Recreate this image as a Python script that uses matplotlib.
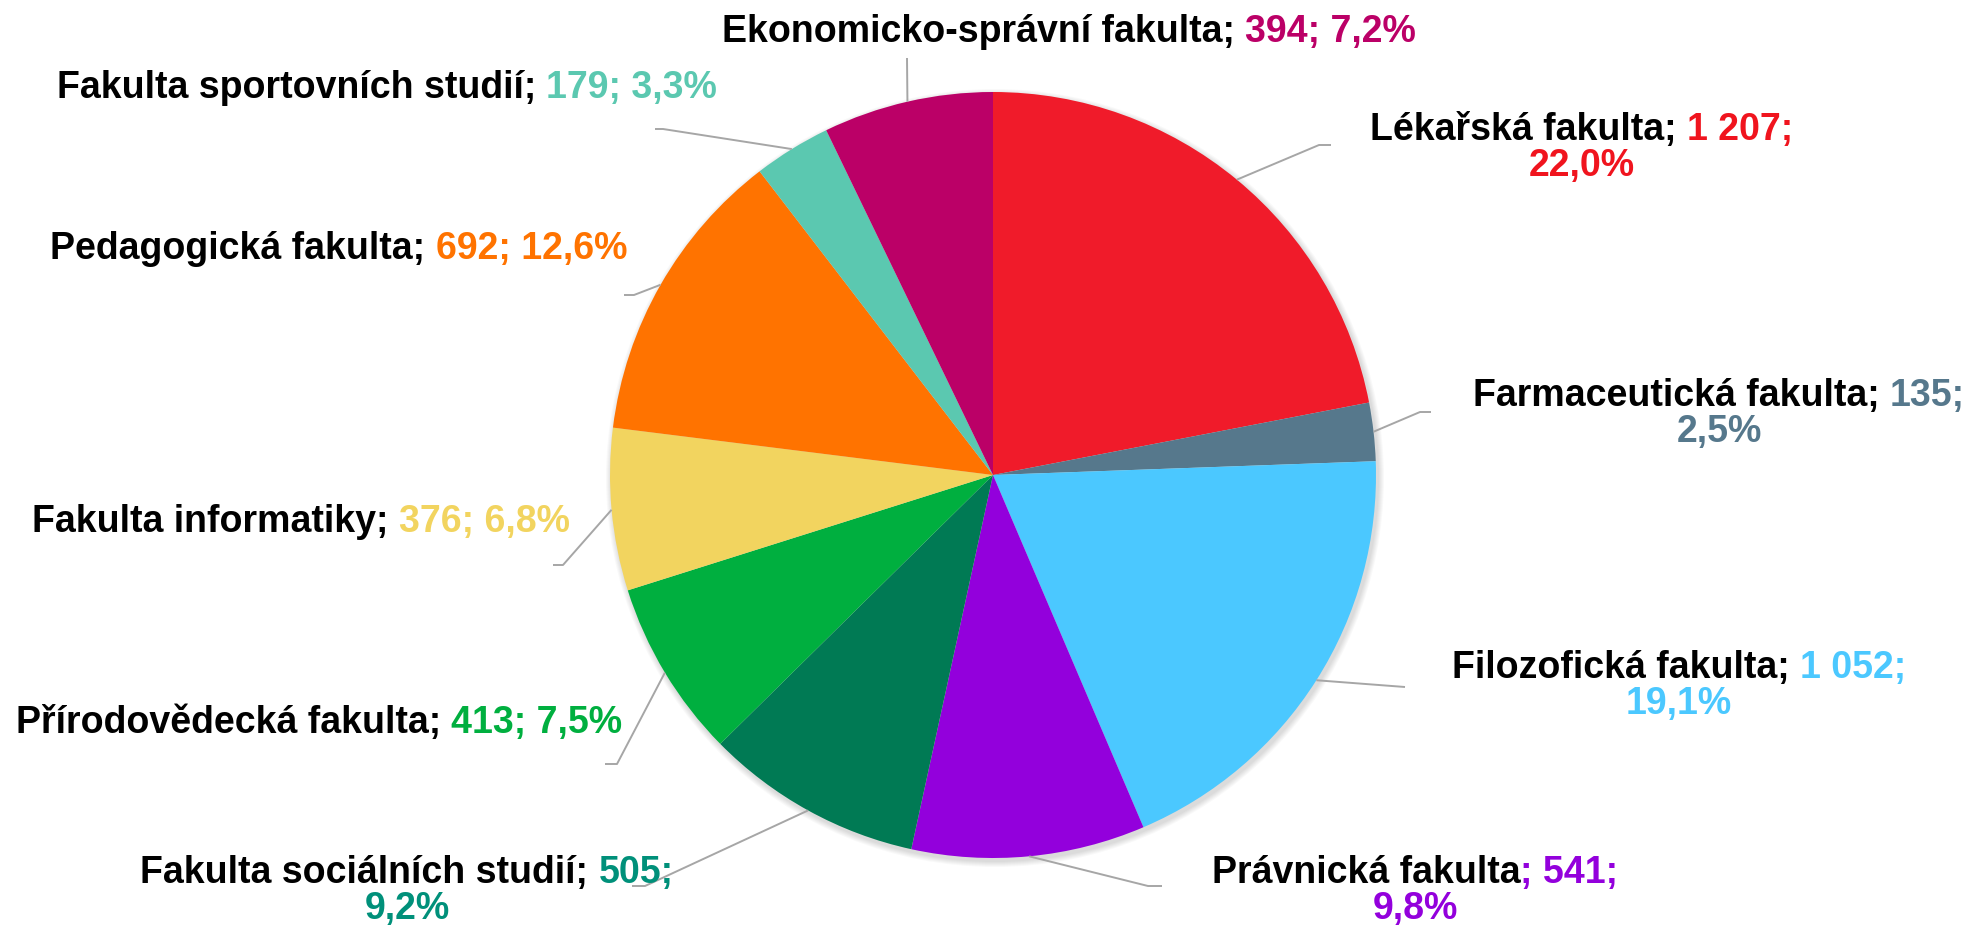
import numpy as np
import matplotlib
matplotlib.use("Agg")
import matplotlib.pyplot as plt
from matplotlib.offsetbox import TextArea, HPacker, VPacker, AnnotationBbox
from matplotlib.patches import Circle


# -------------------------
# Data
# -------------------------

faculties = [
    "Lékařská fakulta", "Farmaceutická fakulta", "Filozofická fakulta",
    "Právnická fakulta", "Fakulta sociálních studií", "Přírodovědecká fakulta",
    "Fakulta informatiky", "Pedagogická fakulta", "Fakulta sportovních studií",
    "Ekonomicko-správní fakulta",
]
counts = [1207, 135, 1052, 541, 505, 413, 376, 692, 179, 394]

slice_colors = ["#F01B2A", "#56788C", "#4BC8FF", "#9300DC", "#007A54",
                "#00AF3F", "#F2D45F", "#FF7300", "#5BC8B0", "#BB0067"]
value_colors = ["#F0141E", "#56788C", "#4BC8FF", "#9300DC", "#00907A",
                "#00AF3F", "#F2D45F", "#FF7300", "#5BC8B0", "#BB0067"]


# -------------------------
# Layout (pixels, y from top)
# -------------------------

W, H = 1970, 927
center_px = (993, 475)
radius_px = 383

# label centre, leader elbow, leader end, wrap after value?, ';' coloured?
label_xy = [(1582, 148), (1719, 414), (1679, 686), (1415, 891), (407, 891),
            (319, 723), (301, 522), (339, 249), (387, 88), (1069, 32)]
elbow_xy = [(1319, 145), (1420, 412), (1405, 687), (1148, 886), (645, 886),
            (617, 764), (563, 565), (634, 295), (663, 129), (907, 58)]
end_xy = [(1331, 145), (1431, 412), (1405, 687), (1162, 886), (632, 886),
          (605, 764), (553, 565), (624, 295), (655, 129), (907, 58)]
wrap = [True, True, True, True, True, False, False, False, False, False]
colored_semicolon = [False, False, False, True, False,
                     False, False, False, False, False]

FS = 27
FONT = "Liberation Sans"


def to_data(p):
    return p[0], H - p[1]


total = sum(counts)

fig = plt.figure(figsize=(W / 100, H / 100), dpi=100)
ax = fig.add_axes([0, 0, 1, 1])

cx, cy = to_data(center_px)

# soft shadow under the pie
for k in range(6):
    ax.add_patch(Circle((cx + 2, cy - 3), radius_px + 1 + k, color="black",
                        alpha=0.025, lw=0, zorder=0))

wedges, _ = ax.pie(counts, colors=slice_colors, startangle=90,
                   counterclock=False, radius=radius_px, center=(cx, cy),
                   wedgeprops=dict(linewidth=0))

ax.set_xlim(0, W)
ax.set_ylim(0, H)
ax.set_aspect("equal")
ax.axis("off")


# -------------------------
# Leader lines + labels
# -------------------------

for i, w in enumerate(wedges):
    mid = np.deg2rad((w.theta1 + w.theta2) / 2)
    sx = cx + radius_px * np.cos(mid)
    sy = cy + radius_px * np.sin(mid)
    ex, ey = to_data(elbow_xy[i])
    fx, fy = to_data(end_xy[i])
    ax.plot([sx, ex, fx], [sy, ey, fy], color="#A6A6A6", lw=1.4, zorder=1,
            solid_capstyle="butt")

    val = f"{counts[i]:,}".replace(",", " ")
    pct = f"{counts[i] / total * 100:.1f}%".replace(".", ",")
    props_k = dict(color="black", fontsize=FS, fontweight="bold", family=FONT)
    props_c = dict(color=value_colors[i], fontsize=FS, fontweight="bold",
                   family=FONT)

    if colored_semicolon[i]:
        name = TextArea(faculties[i], textprops=props_k)
        first = "; " + val + ";"
        gap = 0
    else:
        name = TextArea(faculties[i] + ";", textprops=props_k)
        first = val + ";"
        gap = 0.278 * FS

    if wrap[i]:
        line1 = HPacker(children=[name, TextArea(first, textprops=props_c)],
                        align="baseline", pad=0, sep=gap)
        line2 = TextArea(pct, textprops=props_c)
        box = VPacker(children=[line1, line2], align="center", pad=0, sep=0)
    else:
        box = HPacker(children=[name, TextArea(first + " " + pct,
                                                textprops=props_c)],
                      align="baseline", pad=0, sep=gap)

    ab = AnnotationBbox(box, to_data(label_xy[i]), frameon=False,
                        box_alignment=(0.5, 0.5), pad=0)
    ax.add_artist(ab)

fig.savefig("out.png", dpi=100, facecolor="white")
